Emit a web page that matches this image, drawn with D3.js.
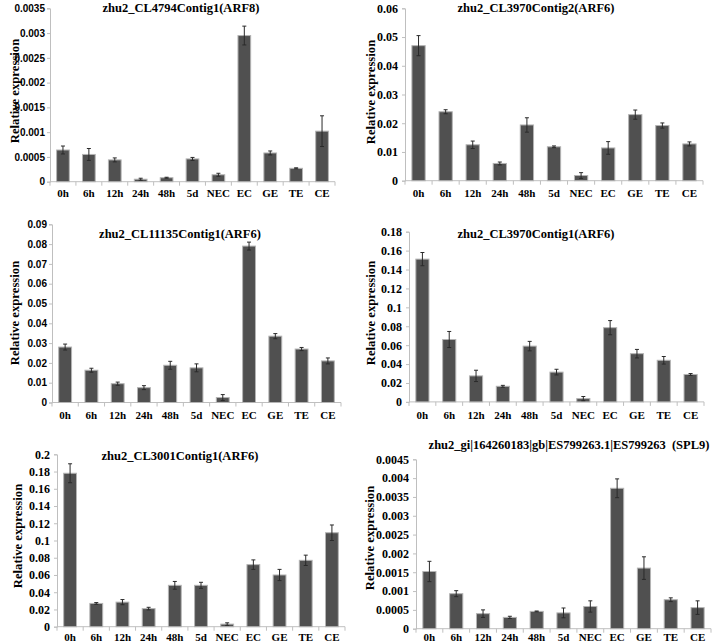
<!DOCTYPE html>
<html>
<head>
<meta charset="utf-8">
<script src="https://cdn.jsdelivr.net/npm/d3@7"></script>
<style>
  body { margin: 0; background: #fff; }
  svg { display: block; }
  .serif { font-family: "Liberation Serif", "Times New Roman", serif; font-weight: bold; }
  .sans { font-family: "Liberation Sans", Arial, sans-serif; font-weight: bold; }
</style>
</head>
<body>
<svg id="chart" width="712" height="643"></svg>
<script>
var categories = ["0h", "6h", "12h", "24h", "48h", "5d", "NEC", "EC", "GE", "TE", "CE"];

var titles = [
  "zhu2_CL4794Contig1(ARF8)",
  "zhu2_CL3970Contig2(ARF6)",
  "zhu2_CL11135Contig1(ARF6)",
  "zhu2_CL3970Contig1(ARF6)",
  "zhu2_CL3001Contig1(ARF6)",
  "zhu2_gi|164260183|gb|ES799263.1|ES799263  (SPL9)"
];

// relative expression, mean and error, one pair per panel
var arf8Values = [0.00064, 0.00055, 0.00044, 0.00005, 0.00008, 0.00046, 0.00014, 0.00295, 0.00058, 0.00027, 0.00102];
var arf8Errors = [0.00008, 0.00012, 0.00004, 0.00002, 0.00001, 0.00003, 0.00003, 0.00019, 0.00004, 0.00001, 0.00031];

var contig2Values = [0.047, 0.024, 0.0125, 0.006, 0.0194, 0.0118, 0.0018, 0.0114, 0.023, 0.0192, 0.0128];
var contig2Errors = [0.0035, 0.0007, 0.0013, 0.0005, 0.0025, 0.0003, 0.001, 0.0022, 0.0016, 0.0009, 0.0007];

var cl11135Values = [0.028, 0.0163, 0.0095, 0.0075, 0.0188, 0.0175, 0.0025, 0.079, 0.0335, 0.027, 0.021];
var cl11135Errors = [0.0015, 0.001, 0.0008, 0.001, 0.002, 0.002, 0.0015, 0.002, 0.0013, 0.0008, 0.0015];

var contig1Values = [0.151, 0.066, 0.0275, 0.0165, 0.059, 0.0315, 0.0035, 0.0785, 0.051, 0.044, 0.029];
var contig1Errors = [0.007, 0.0085, 0.006, 0.001, 0.005, 0.003, 0.0022, 0.0075, 0.0045, 0.004, 0.001];

var cl3001Values = [0.178, 0.027, 0.0285, 0.021, 0.048, 0.048, 0.003, 0.072, 0.06, 0.077, 0.109];
var cl3001Errors = [0.011, 0.001, 0.003, 0.0015, 0.0045, 0.0035, 0.0015, 0.0055, 0.0065, 0.006, 0.009];

var spl9Values = [0.00152, 0.00093, 0.0004, 0.0003, 0.00046, 0.00042, 0.00059, 0.00373, 0.00161, 0.00077, 0.00056];
var spl9Errors = [0.00027, 0.00008, 0.0001, 0.00003, 0.00001, 0.00013, 0.00015, 0.00025, 0.0003, 0.00005, 0.00018];

// y tick labels per panel
var arf8Ticks = ["0", "0.0005", "0.001", "0.0015", "0.002", "0.0025", "0.003", "0.0035"];
var contig2Ticks = ["0", "0.01", "0.02", "0.03", "0.04", "0.05", "0.06"];
var cl11135Ticks = ["0", "0.01", "0.02", "0.03", "0.04", "0.05", "0.06", "0.07", "0.08", "0.09"];
var contig1Ticks = ["0", "0.02", "0.04", "0.06", "0.08", "0.1", "0.12", "0.14", "0.16", "0.18"];
var cl3001Ticks = ["0", "0.02", "0.04", "0.06", "0.08", "0.1", "0.12", "0.14", "0.16", "0.18", "0.2"];
var spl9Ticks = ["0", "0.0005", "0.001", "0.0015", "0.002", "0.0025", "0.003", "0.0035", "0.004", "0.0045"];

// layout of each panel on the page
var panels = [
  { values: arf8Values, errors: arf8Errors, ticks: arf8Ticks, title: titles[0],
    x0: 50, x1: 335, yTop: 8.3, yZero: 181.7, titleX: 181, titleY: 11.5, labelX: 14, labelY: 91, catY: 197, tickFont: "sans" },
  { values: contig2Values, errors: contig2Errors, ticks: contig2Ticks, title: titles[1],
    x0: 405, x1: 703, yTop: 8.3, yZero: 180.7, titleX: 536, titleY: 11.5, labelX: 370, labelY: 92, catY: 197, tickFont: "serif" },
  { values: cl11135Values, errors: cl11135Errors, ticks: cl11135Ticks, title: titles[2],
    x0: 52, x1: 341, yTop: 224.3, yZero: 402.5, titleX: 180, titleY: 237.5, labelX: 14, labelY: 313, catY: 419, tickFont: "sans" },
  { values: contig1Values, errors: contig1Errors, ticks: contig1Ticks, title: titles[3],
    x0: 409, x1: 704, yTop: 231.7, yZero: 401.9, titleX: 536, titleY: 237.5, labelX: 370, labelY: 313, catY: 419, tickFont: "serif" },
  { values: cl3001Values, errors: cl3001Errors, ticks: cl3001Ticks, title: titles[4],
    x0: 57, x1: 345, yTop: 454.3, yZero: 626.7, titleX: 180, titleY: 459.5, labelX: 17, labelY: 536, catY: 640.5, tickFont: "serif" },
  { values: spl9Values, errors: spl9Errors, ticks: spl9Ticks, title: titles[5],
    x0: 416, x1: 711, yTop: 459.3, yZero: 628.7, titleX: 569, titleY: 448.5, labelX: 369, labelY: 538, catY: 640.5, tickFont: "serif" }
];

var svg = d3.select("#chart");

var drawPanel = function(p) {
  var g = svg.append("g");
  var tickValues = p.ticks.map(Number);
  var maxTick = d3.max(tickValues);

  var xScale = d3.scaleBand().domain(categories).range([p.x0, p.x1]);
  var yScale = d3.scaleLinear().domain([0, maxTick]).range([p.yZero, p.yTop]);
  var barW = xScale.bandwidth() * 0.49;

  // y axis
  var yAxis = d3.axisLeft(yScale)
    .tickValues(tickValues)
    .tickSize(3)
    .tickFormat(function(d, i) { return p.ticks[i]; });
  var ya = g.append("g")
    .attr("transform", "translate(" + p.x0 + ",0)")
    .call(yAxis)
    .attr("font-family", null)
    .attr("font-size", null);
  ya.select(".domain").attr("stroke", "#bfbfbf");
  ya.selectAll(".tick line").attr("stroke", "#bfbfbf");
  ya.selectAll(".tick text")
    .attr("x", p.tickFont === "sans" ? -5 : -7)
    .attr("class", p.tickFont)
    .style("font-size", p.tickFont === "sans" ? "10px" : "12px")
    .attr("fill", "#000");

  // x axis line with ticks between categories
  g.append("line")
    .attr("x1", p.x0).attr("x2", p.x1)
    .attr("y1", p.yZero).attr("y2", p.yZero)
    .attr("stroke", "#bfbfbf");
  var bounds = categories.map(function(c) { return xScale(c); }).concat([p.x1]);
  g.selectAll(".xtick").data(bounds).enter().append("line")
    .attr("class", "xtick")
    .attr("x1", function(d) { return d; }).attr("x2", function(d) { return d; })
    .attr("y1", p.yZero).attr("y2", p.yZero + 4)
    .attr("stroke", "#bfbfbf");

  // bars
  g.selectAll(".bar").data(p.values).enter().append("rect")
    .attr("class", "bar")
    .attr("x", function(d, i) { return xScale(categories[i]) + (xScale.bandwidth() - barW) / 2; })
    .attr("y", function(d) { return yScale(d); })
    .attr("width", barW)
    .attr("height", function(d) { return p.yZero - yScale(d); })
    .attr("fill", "#505050")
    .attr("stroke", "#b4b4b4")
    .attr("stroke-width", 1);

  // error bars
  var cx = function(i) { return xScale(categories[i]) + xScale.bandwidth() / 2; };
  var err = g.selectAll(".err").data(p.values).enter().append("g").attr("class", "err")
    .attr("stroke", "#2a2a2a").attr("stroke-width", 1);
  err.append("line")
    .attr("x1", function(d, i) { return cx(i); }).attr("x2", function(d, i) { return cx(i); })
    .attr("y1", function(d, i) { return yScale(d - p.errors[i]); })
    .attr("y2", function(d, i) { return yScale(d + p.errors[i]); });
  err.append("line")
    .attr("x1", function(d, i) { return cx(i) - 2; }).attr("x2", function(d, i) { return cx(i) + 2; })
    .attr("y1", function(d, i) { return yScale(d + p.errors[i]); })
    .attr("y2", function(d, i) { return yScale(d + p.errors[i]); });
  err.append("line")
    .attr("x1", function(d, i) { return cx(i) - 2; }).attr("x2", function(d, i) { return cx(i) + 2; })
    .attr("y1", function(d, i) { return yScale(d - p.errors[i]); })
    .attr("y2", function(d, i) { return yScale(d - p.errors[i]); });

  // category labels
  g.selectAll(".cat").data(categories).enter().append("text")
    .attr("class", "serif")
    .attr("x", function(d) { return xScale(d) + xScale.bandwidth() / 2; })
    .attr("y", p.catY)
    .attr("text-anchor", "middle")
    .style("font-size", "11px")
    .text(function(d) { return d; });

  // title
  g.append("text")
    .attr("class", "serif")
    .attr("x", p.titleX).attr("y", p.titleY)
    .attr("text-anchor", "middle")
    .style("font-size", "12.5px")
    .style("white-space", "pre")
    .text(p.title);

  // y label
  g.append("text")
    .attr("class", "serif")
    .attr("transform", "translate(" + (p.labelX + 5) + "," + p.labelY + ") rotate(-90)")
    .attr("text-anchor", "middle")
    .style("font-size", "12.7px")
    .text("Relative expression");
};

panels.forEach(drawPanel);
</script>
</body>
</html>
